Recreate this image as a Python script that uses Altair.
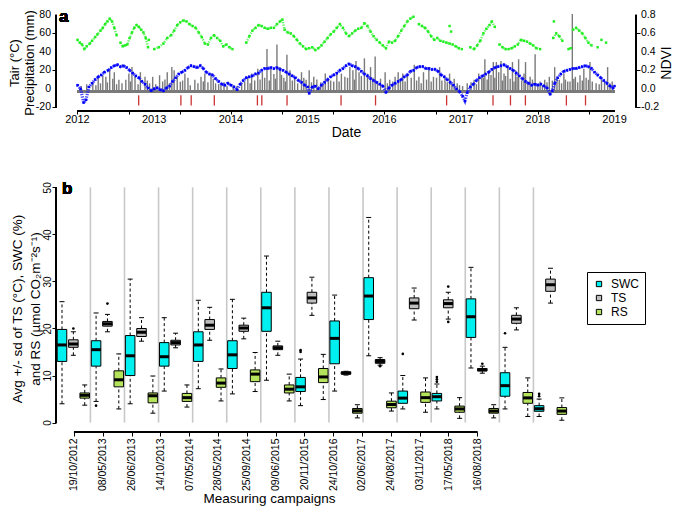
import altair as alt
import pandas as pd

FONT = "Liberation Sans"

# ---------------- Panel a data ----------------
# Air temperature (°C) (decimal year, value)
tair = [
    (2012.00, 4), (2012.04, 0), (2012.08, -15), (2012.11, -12), (2012.15, 2), (2012.19, 6),
    (2012.23, 10), (2012.27, 13), (2012.31, 15), (2012.35, 18), (2012.40, 20), (2012.44, 23),
    (2012.48, 25), (2012.52, 26), (2012.56, 24), (2012.60, 25), (2012.64, 23), (2012.68, 20),
    (2012.72, 17), (2012.76, 14), (2012.80, 12), (2012.84, 8), (2012.88, 5), (2012.92, 1),
    (2012.96, -2), (2013.00, 0), (2013.04, 1), (2013.08, -1), (2013.12, -2), (2013.16, 1),
    (2013.20, 3), (2013.24, 8), (2013.28, 12), (2013.32, 16), (2013.36, 18), (2013.40, 20),
    (2013.44, 23), (2013.48, 25), (2013.52, 24), (2013.56, 23), (2013.60, 25), (2013.64, 22),
    (2013.68, 18), (2013.72, 16), (2013.76, 15), (2013.80, 11), (2013.84, 8), (2013.88, 5),
    (2013.92, 4), (2013.96, 6), (2014.00, 4), (2014.04, 2), (2014.08, -1), (2014.12, 5),
    (2014.16, 9), (2014.20, 12), (2014.24, 13), (2014.28, 14), (2014.32, 16), (2014.36, 17),
    (2014.40, 20), (2014.44, 22), (2014.48, 22), (2014.52, 23), (2014.56, 22), (2014.60, 23),
    (2014.64, 21), (2014.68, 20), (2014.72, 18), (2014.76, 16), (2014.80, 14), (2014.84, 12),
    (2014.88, 9), (2014.92, 7), (2014.96, 4), (2015.00, 2), (2015.02, -5), (2015.06, 2),
    (2015.10, 3), (2015.14, 0), (2015.18, 4), (2015.22, 7), (2015.26, 10), (2015.30, 13),
    (2015.34, 15), (2015.38, 17), (2015.42, 20), (2015.46, 22), (2015.50, 25), (2015.54, 27),
    (2015.58, 25), (2015.62, 24), (2015.66, 22), (2015.70, 19), (2015.74, 16), (2015.78, 14),
    (2015.82, 11), (2015.86, 9), (2015.90, 7), (2015.94, 5), (2015.98, 3), (2016.02, -4),
    (2016.06, 1), (2016.10, 4), (2016.14, 6), (2016.18, 8), (2016.22, 10), (2016.26, 13),
    (2016.30, 15), (2016.34, 19), (2016.38, 20), (2016.42, 23), (2016.46, 24), (2016.50, 24),
    (2016.54, 22), (2016.58, 22), (2016.62, 21), (2016.66, 21), (2016.70, 19), (2016.74, 15),
    (2016.78, 13), (2016.82, 10), (2016.86, 7), (2016.90, 4), (2016.94, 0), (2016.98, -3),
    (2017.02, -8), (2017.05, -13), (2017.08, -4), (2017.12, 2), (2017.16, 5), (2017.20, 9),
    (2017.24, 12), (2017.28, 14), (2017.32, 16), (2017.36, 18), (2017.40, 21), (2017.44, 23),
    (2017.48, 24), (2017.52, 25), (2017.56, 26), (2017.60, 24), (2017.64, 22), (2017.68, 20),
    (2017.72, 17), (2017.76, 14), (2017.80, 11), (2017.84, 8), (2017.88, 6), (2017.92, 4),
    (2017.96, 5), (2018.00, 4), (2018.04, 5), (2018.08, 3), (2018.12, 1), (2018.16, -6),
    (2018.19, -2), (2018.22, 6), (2018.26, 12), (2018.30, 16), (2018.34, 19), (2018.38, 20),
    (2018.42, 21), (2018.46, 22), (2018.50, 22), (2018.54, 23), (2018.58, 24), (2018.62, 25),
    (2018.66, 24), (2018.70, 22), (2018.74, 18), (2018.78, 15), (2018.82, 12), (2018.86, 9),
    (2018.90, 6), (2018.94, 3), (2018.98, 1), (2019.00, 3),
]

# NDVI (decimal year, value, segment id for gaps)
ndvi = [
    (2012.00, 0.53, 1), (2012.03, 0.50, 1), (2012.06, 0.48, 1), (2012.09, 0.43, 1), (2012.12, 0.46, 1),
    (2012.16, 0.49, 1), (2012.19, 0.52, 1), (2012.23, 0.56, 1), (2012.26, 0.59, 1), (2012.30, 0.63, 1),
    (2012.33, 0.66, 1), (2012.36, 0.70, 1), (2012.39, 0.73, 1), (2012.42, 0.76, 1), (2012.45, 0.73, 1),
    (2012.48, 0.66, 1), (2012.51, 0.58, 1),
    (2012.56, 0.50, 2), (2012.59, 0.46, 2), (2012.62, 0.47, 2), (2012.65, 0.48, 2), (2012.68, 0.55, 2),
    (2012.71, 0.61, 2), (2012.74, 0.66, 2), (2012.77, 0.69, 2), (2012.80, 0.67, 2), (2012.83, 0.64, 2),
    (2012.86, 0.61, 2), (2012.89, 0.55, 2), (2012.92, 0.45, 2),
    (2013.00, 0.43, 3), (2013.06, 0.45, 3), (2013.12, 0.49, 3), (2013.17, 0.55, 3), (2013.22, 0.58, 3),
    (2013.26, 0.63, 3), (2013.30, 0.69, 3), (2013.34, 0.72, 3), (2013.38, 0.74, 3), (2013.42, 0.73, 3),
    (2013.46, 0.70, 3), (2013.50, 0.68, 3), (2013.54, 0.66, 3), (2013.58, 0.61, 3), (2013.62, 0.56, 3),
    (2013.66, 0.49, 3), (2013.70, 0.48, 3), (2013.74, 0.55, 3), (2013.78, 0.58, 3), (2013.82, 0.55, 3),
    (2013.86, 0.52, 3), (2013.90, 0.46, 3), (2013.94, 0.48, 3), (2013.98, 0.45, 3), (2014.02, 0.43, 3),
    (2014.20, 0.50, 4), (2014.24, 0.57, 4), (2014.28, 0.63, 4), (2014.32, 0.66, 4), (2014.36, 0.69, 4),
    (2014.40, 0.68, 4), (2014.44, 0.66, 4), (2014.48, 0.65, 4), (2014.52, 0.66, 4), (2014.56, 0.66, 4),
    (2014.60, 0.70, 4), (2014.64, 0.73, 4), (2014.67, 0.75, 4), (2014.70, 0.64, 4), (2014.74, 0.61, 4),
    (2014.78, 0.60, 4), (2014.82, 0.57, 4), (2014.86, 0.53, 4), (2014.90, 0.49, 4), (2014.94, 0.46, 4),
    (2014.98, 0.43, 4), (2015.02, 0.44, 4), (2015.06, 0.45, 4), (2015.10, 0.42, 4), (2015.14, 0.44, 4),
    (2015.18, 0.47, 4), (2015.22, 0.51, 4), (2015.26, 0.55, 4), (2015.30, 0.59, 4), (2015.34, 0.62, 4),
    (2015.38, 0.66, 4), (2015.42, 0.70, 4), (2015.46, 0.66, 4), (2015.50, 0.60, 4), (2015.54, 0.57, 4),
    (2015.58, 0.60, 4), (2015.62, 0.63, 4), (2015.66, 0.65, 4), (2015.70, 0.66, 4), (2015.74, 0.71, 4),
    (2015.78, 0.68, 4), (2015.82, 0.62, 4), (2015.86, 0.57, 4), (2015.90, 0.53, 4), (2015.94, 0.50, 4),
    (2015.98, 0.47, 4), (2016.02, 0.44, 4), (2016.06, 0.51, 4), (2016.10, 0.50, 4), (2016.14, 0.52, 4),
    (2016.18, 0.57, 4), (2016.22, 0.63, 4), (2016.26, 0.68, 4), (2016.30, 0.73, 4), (2016.34, 0.76, 4),
    (2016.38, 0.78, 4),
    (2016.45, 0.70, 5), (2016.49, 0.68, 5), (2016.53, 0.66, 5), (2016.57, 0.62, 5), (2016.61, 0.57, 5),
    (2016.65, 0.53, 5), (2016.69, 0.55, 5), (2016.73, 0.52, 5), (2016.77, 0.51, 5), (2016.81, 0.50, 5),
    (2016.85, 0.49, 5), (2016.89, 0.48, 5), (2016.93, 0.46, 5), (2016.97, 0.44, 5), (2017.01, 0.43, 5),
    (2017.12, 0.45, 6), (2017.17, 0.43, 6), (2017.21, 0.47, 6), (2017.25, 0.52, 6), (2017.29, 0.60, 6),
    (2017.33, 0.65, 6), (2017.37, 0.69, 6), (2017.40, 0.73, 6), (2017.44, 0.67, 6),
    (2017.50, 0.48, 7), (2017.54, 0.45, 7), (2017.58, 0.43, 7), (2017.62, 0.43, 7), (2017.66, 0.44, 7),
    (2017.70, 0.46, 7), (2017.74, 0.48, 7), (2017.78, 0.53, 7), (2017.82, 0.52, 7), (2017.86, 0.51, 7),
    (2017.90, 0.49, 7), (2017.94, 0.47, 7), (2017.98, 0.44, 7), (2018.03, 0.43, 7),
    (2018.20, 0.55, 8), (2018.24, 0.60, 8), (2018.28, 0.57, 8), (2018.32, 0.52, 8),
    (2018.40, 0.43, 9), (2018.43, 0.44, 9),
    (2018.46, 0.64, 10), (2018.50, 0.66, 10), (2018.54, 0.63, 10), (2018.58, 0.60, 10), (2018.62, 0.55, 10),
    (2018.66, 0.50, 10), (2018.70, 0.47, 10),
    (2012.93, 0.53, 11), (2016.85, 0.68, 12), (2016.87, 0.62, 13), (2018.21, 0.73, 14),
    (2018.78, 0.45, 15), (2018.83, 0.53, 16), (2018.89, 0.50, 17),
]

# Precipitation (mm) for rainy days (decimal year, mm)
precip = [
    (2012.05, 3), (2012.12, 5), (2012.20, 8), (2012.24, 4), (2012.27, 12), (2012.30, 6), (2012.33, 14.7),
    (2012.37, 13), (2012.39, 7), (2012.42, 21.8), (2012.46, 11), (2012.48, 18), (2012.51, 5), (2012.54, 9.8),
    (2012.58, 6), (2012.63, 9.8), (2012.67, 16.5), (2012.69, 8), (2012.71, 23.5), (2012.75, 13), (2012.79, 5),
    (2012.82, 18), (2012.88, 13), (2012.91, 9), (2012.94, 6), (2012.98, 13),
    (2013.02, 5), (2013.07, 14.7), (2013.11, 8), (2013.14, 10), (2013.17, 18), (2013.20, 6), (2013.23, 23.5),
    (2013.26, 20), (2013.30, 13), (2013.34, 7.7), (2013.37, 9), (2013.40, 16.5), (2013.44, 12), (2013.47, 4),
    (2013.53, 9.8), (2013.57, 6), (2013.61, 13), (2013.64, 8), (2013.66, 16.5), (2013.70, 7), (2013.74, 16.5),
    (2013.77, 11), (2013.80, 6), (2013.84, 5), (2013.87, 4), (2013.91, 7), (2013.95, 3),
    (2014.03, 4), (2014.08, 3), (2014.14, 6), (2014.18, 8), (2014.22, 13), (2014.25, 6), (2014.27, 16.5),
    (2014.31, 9), (2014.35, 21.8), (2014.38, 10), (2014.41, 18), (2014.44, 12), (2014.47, 43), (2014.50, 9),
    (2014.52, 21.8), (2014.56, 16), (2014.58, 11), (2014.60, 48), (2014.64, 23.5), (2014.66, 15), (2014.69, 12),
    (2014.71, 8), (2014.73, 37), (2014.77, 20), (2014.80, 9), (2014.83, 13), (2014.87, 6), (2014.92, 18),
    (2014.95, 12), (2014.98, 9.8),
    (2015.02, 20), (2015.05, 7), (2015.08, 13), (2015.12, 10), (2015.17, 7), (2015.20, 5), (2015.23, 16.5),
    (2015.27, 11), (2015.30, 9), (2015.34, 8), (2015.38, 18), (2015.41, 8), (2015.44, 16.5), (2015.485, 13),
    (2015.52, 12), (2015.55, 23.5), (2015.59, 20), (2015.61, 10), (2015.63, 30), (2015.67, 18), (2015.70, 14),
    (2015.74, 33), (2015.78, 16.5), (2015.82, 23.5), (2015.85, 12), (2015.88, 35), (2015.91, 8), (2015.95, 11),
    (2016.01, 18), (2016.04, 6), (2016.07, 9.8), (2016.11, 8), (2016.14, 13), (2016.18, 18), (2016.21, 10),
    (2016.24, 16.5), (2016.27, 8), (2016.30, 14), (2016.35, 12), (2016.39, 26), (2016.42, 9), (2016.45, 13),
    (2016.48, 6), (2016.51, 18), (2016.55, 10), (2016.58, 23.5), (2016.61, 8), (2016.64, 13), (2016.68, 12),
    (2016.72, 23.5), (2016.75, 9), (2016.79, 13), (2016.82, 7), (2016.85, 16.5), (2016.88, 5), (2016.91, 11),
    (2016.95, 6), (2016.98, 4),
    (2017.02, 3), (2017.08, 6), (2017.13, 7), (2017.17, 9.8), (2017.20, 5), (2017.23, 16.5), (2017.27, 13),
    (2017.29, 12), (2017.31, 32), (2017.34, 10), (2017.36, 20), (2017.39, 15), (2017.42, 29), (2017.44, 12),
    (2017.46, 29), (2017.49, 18), (2017.52, 30), (2017.54, 9), (2017.56, 16.5), (2017.58, 14), (2017.61, 25),
    (2017.64, 11), (2017.67, 29), (2017.69, 8), (2017.71, 20), (2017.73, 13), (2017.75, 32), (2017.79, 9),
    (2017.82, 16.5), (2017.84, 29), (2017.87, 7), (2017.90, 13), (2017.93, 10), (2017.965, 37.5),
    (2018.00, 5), (2018.03, 8), (2018.06, 4), (2018.09, 9.8), (2018.12, 7), (2018.15, 13), (2018.19, 9),
    (2018.22, 23.5), (2018.25, 12), (2018.28, 9.8), (2018.31, 6), (2018.34, 16.5), (2018.36, 10), (2018.39, 8),
    (2018.42, 8), (2018.45, 81), (2018.47, 11), (2018.49, 13), (2018.52, 7), (2018.55, 14.7), (2018.58, 9),
    (2018.60, 21.8), (2018.63, 12), (2018.66, 9.8), (2018.68, 29), (2018.71, 8), (2018.76, 6), (2018.80, 5),
    (2018.83, 9.8), (2018.87, 9), (2018.91, 23.5), (2018.94, 6), (2018.97, 8),
]

# Axis tick labels for panel a
left_ticks = [-20, 0, 20, 40, 60, 80]
right_ticks = [-0.2, 0.0, 0.2, 0.4, 0.6, 0.8]
year_ticks = [2012, 2013, 2014, 2015, 2016, 2017, 2018, 2019]

# Measuring campaigns
campaigns = ["19/10/2012", "08/05/2013", "26/06/2013", "14/10/2013", "07/05/2014",
             "28/05/2014", "25/09/2014", "09/06/2015", "20/11/2015", "24/10/2016",
             "02/06/2017", "24/08/2017", "03/11/2017", "17/05/2018", "16/08/2018"]

# ---------------- Panel b data ----------------
variables = ["SWC", "TS", "RS"]
# per box: q1, median, q3, lower whisker, upper whisker (campaign by campaign: SWC, TS, RS)
box_q1 = [13, 16, 5.2, 12, 20.5, 7.6, 10, 18.3, 4.2, 12, 16.5, 4.5, 13, 19.8, 7.5,
          11.5, 19.4, 8.7, 19.4, 15.5, 6.3, 6.6, 25.4, 8.5, 12.5, 10.3, 2.0, 21.9, 12.6, 3.15,
          4.1, 24.2, 4.3, 4.6, 24.4, 2.2, 18.1, 11.0, 2.0, 5.6, 21.1, 4.1, 2.4, 27.9, 1.75]
box_med = [16.5, 16.7, 5.8, 15.5, 21, 9.1, 14.2, 19.2, 5.7, 14, 17, 5.3, 16.5, 20.7, 8.4,
           14.4, 20.1, 10.3, 24.4, 15.9, 7.1, 7.6, 26.5, 9.7, 17.9, 10.5, 2.5, 26.9, 13.0, 3.85,
           5.2, 25.4, 5.3, 5.5, 25.3, 2.9, 22.5, 11.2, 2.45, 7.85, 22, 5.25, 2.95, 29.3, 2.45]
box_q3 = [19.8, 17.6, 6.3, 17.4, 21.5, 11, 18.5, 20, 6.3, 17, 17.5, 6.2, 19.3, 21.9, 9.5,
          17.4, 20.7, 11.2, 27.7, 16.3, 8, 9.6, 27.7, 11.5, 21.6, 10.8, 3.0, 30.8, 13.4, 4.55,
          6.7, 26.5, 6.5, 6.2, 26.1, 3.5, 26.3, 11.5, 3.0, 10.6, 22.8, 6.4, 3.6, 30.5, 3.2]
box_lo = [4, 14.3, 3.7, 4.5, 19.3, 2.9, 4, 17.3, 2, 6.7, 15.9, 3.3, 7.2, 17.5, 4.6,
          6.1, 17.8, 6.6, 9, 14.3, 4.6, 3.6, 22.8, 4.9, 6.7, 10.1, 1.0, 14.2, 12.2, 2.45,
          2.9, 21.8, 2.2, 2.9, 22, 0.9, 11.6, 10.5, 1.0, 2.9, 19.7, 1.3, 1.3, 25.4, 0.5]
box_hi = [25.7, 19.3, 8, 23.3, 23, 14.6, 30.5, 22.3, 9.9, 22.3, 19, 8, 26, 24.5, 11.4,
          26.2, 22.2, 14.9, 35.4, 17.3, 10.3, 13.5, 30.9, 14.5, 27.1, 10.9, 3.8, 43.6, 13.8, 6.3,
          10, 28.6, 9.5, 8.2, 27.7, 5.3, 33, 12, 3.8, 16, 24.4, 9.5, 5.0, 32.8, 5.25]
# outliers: (box number 1..45, value)
outliers = [(2, 20.0), (4, 3.6), (5, 25.3), (22, 15.0), (22, 15.4), (29, 12.0), (31, 14.6),
            (34, 8.7), (34, 9.2), (34, 9.7), (35, 28.9), (35, 21.4), (38, 12.5), (40, 19.0),
            (43, 5.6), (43, 6.1)]
box_colors = ["#00f0f0", "#bebebe", "#b5e35b"]

# ---------------- Build data frames ----------------
tair_df = pd.DataFrame(tair, columns=["t", "v"])
ndvi_df = pd.DataFrame(ndvi, columns=["t", "n", "seg"])
prec_df = pd.DataFrame(precip, columns=["t", "mm"])
lt_df = pd.DataFrame({"lv": left_ticks, "lab": [str(v) for v in left_ticks]})
rt_df = pd.DataFrame({"rv": right_ticks, "lab": [f"{v:.1f}" for v in right_ticks]})
yr_df = pd.DataFrame({"t": year_ticks, "lab": [str(y) for y in year_ticks]})


def dec_year(s):
    d = pd.Timestamp(pd.to_datetime(s, format="%d/%m/%Y"))
    start = pd.Timestamp(year=d.year, month=1, day=1)
    ndays = 366 if d.is_leap_year else 365
    return d.year + (d - start).days / ndays


camp_df = pd.DataFrame({"t": [dec_year(s) for s in campaigns]})

n_box = len(box_q1)
box_df = pd.DataFrame({
    "pos": list(range(1, n_box + 1)),
    "var": [variables[i % 3] for i in range(n_box)],
    "q1": box_q1, "med": box_med, "q3": box_q3, "lo": box_lo, "hi": box_hi,
})
HALF = 0.42
CAP = 0.22
box_df["xl"] = box_df["pos"] - HALF
box_df["xr"] = box_df["pos"] + HALF
box_df["cl"] = box_df["pos"] - CAP
box_df["cr"] = box_df["pos"] + CAP
out_df = pd.DataFrame(outliers, columns=["pos", "val"])
sep_df = pd.DataFrame({"sep": [3 * k + 3.5 for k in range(len(campaigns) - 1)]})

# ---------------- Panel a ----------------
W = 580
HA = 97
HB = 247
PLOT_LEFT = 57  # expected absolute x of the plot areas

month_ticks = [2012 + k / 12 for k in range(0, 7 * 12 + 1)]
xa_scale = alt.Scale(domain=[2011.72, 2019.28], nice=False, zero=False)
xa_axis = alt.Axis(values=month_ticks, labels=False, title="Date", grid=False, domain=False,
                   tickSize=3, titleFontSize=14, titlePadding=11)
xa = alt.X("t:Q", scale=xa_scale, axis=xa_axis)
ya_scale = alt.Scale(domain=[-24, 81], nice=False, zero=False)
ya_axis = alt.Axis(values=left_ticks, labels=False, title=["Tair (°C)", "Precipitation (mm)"],
                   grid=False, domain=False, tickSize=4, titleFontSize=13,
                   titleLineHeight=15.5, titlePadding=15)

bars = alt.Chart(prec_df).mark_rule(color="#7a7a7a", strokeWidth=1.4).encode(
    x=xa, y=alt.Y("mm:Q", scale=ya_scale, axis=ya_axis), y2=alt.datum(-2.5))
base_band = alt.Chart(prec_df).mark_rule(color="#7a7a7a", strokeWidth=2.5).encode(
    x=alt.datum(2012.0), x2=alt.datum(2019.0), y=alt.datum(-2.5))
red_ticks = alt.Chart(camp_df).mark_rule(color="#cc3333", strokeWidth=1.3).encode(
    x=xa, y=alt.datum(-7), y2=alt.datum(-18))
tair_line = alt.Chart(tair_df).mark_line(color="#1a1aff", strokeWidth=3.2, opacity=0.8,
                                         strokeDash=[1.3, 1.2]).encode(
    x=xa, y=alt.Y("v:Q", scale=ya_scale, axis=ya_axis))
tair_pts = alt.Chart(tair_df).mark_square(color="#0000ff", size=6, opacity=1).encode(
    x=xa, y=alt.Y("v:Q", scale=ya_scale, axis=ya_axis))
left_axis_line = alt.Chart(camp_df).mark_rule(color="black", strokeWidth=1).encode(
    x=alt.value(0), y=alt.datum(-20), y2=alt.datum(80))
bottom_axis_line = alt.Chart(camp_df).mark_rule(color="black", strokeWidth=1).encode(
    x=alt.datum(2012.0), x2=alt.datum(2019.0), y=alt.value(HA))
left_labels = alt.Chart(lt_df).mark_text(align="right", baseline="middle", fontSize=10.5,
                                         font=FONT, color="black").encode(
    x=alt.value(-5), y=alt.Y("lv:Q", scale=ya_scale, axis=ya_axis), text="lab:N")
year_labels = alt.Chart(yr_df).mark_text(align="center", baseline="middle", fontSize=11,
                                         font=FONT, color="black").encode(
    x=xa, y=alt.value(HA + 9), text="lab:N")
label_a = alt.Chart(camp_df).mark_text(text="a", fontWeight="bold", fontSize=17, align="left",
                                       baseline="middle", font=FONT).encode(
    x=alt.value(3), y=alt.value(3))

left_layers = alt.layer(bars, base_band, red_ticks, tair_line, tair_pts, left_axis_line,
                        bottom_axis_line, left_labels, year_labels, label_a)

yn_scale = alt.Scale(domain=[-0.24, 0.81], nice=False, zero=False)
yn_axis = alt.Axis(orient="right", values=right_ticks, labels=False, title="NDVI",
                   titleAngle=270, titleBaseline="top", grid=False, domain=False, tickSize=4,
                   titleFontSize=14, titlePadding=19)
ndvi_line = alt.Chart(ndvi_df).mark_line(color="#33ee33", strokeWidth=2.4, opacity=0.75,
                                         strokeDash=[1.3, 1.2]).encode(
    x=xa, y=alt.Y("n:Q", scale=yn_scale, axis=yn_axis), detail="seg:N")
ndvi_pts = alt.Chart(ndvi_df).mark_square(color="#22ee22", size=6, opacity=1).encode(
    x=xa, y=alt.Y("n:Q", scale=yn_scale, axis=yn_axis))
right_axis_line = alt.Chart(camp_df).mark_rule(color="black", strokeWidth=1).encode(
    x=alt.value(W), y=alt.datum(-0.2), y2=alt.datum(0.8))
right_labels = alt.Chart(rt_df).mark_text(align="left", baseline="middle", fontSize=10.5,
                                          font=FONT, color="black").encode(
    x=alt.value(W + 5), y=alt.Y("rv:Q", scale=yn_scale, axis=yn_axis), text="lab:N")
right_layers = alt.layer(ndvi_line, ndvi_pts, right_axis_line, right_labels)

panel_a = alt.layer(left_layers, right_layers).resolve_scale(y="independent").properties(
    width=W, height=HA)

# ---------------- Panel b ----------------
PX = 11.36  # pixels per box slot
x0 = 1 - (63 - PLOT_LEFT) / PX
xb_scale = alt.Scale(domain=[x0, x0 + W / PX], nice=False, zero=False)
tick0 = 2.056
tstep = 2.535
camp_ticks = [tick0 + tstep * j for j in range(len(campaigns))]
label_arr = "[" + ",".join("'" + c + "'" for c in campaigns) + "]"
xb_axis = alt.Axis(values=camp_ticks,
                   labelExpr=label_arr + f"[round((datum.value - {tick0}) / {tstep})]",
                   labelAngle=270, title="Measuring campaigns", titleX=270 - PLOT_LEFT,
                   grid=False, domain=False, tickSize=4, labelFontSize=10.5, titleFontSize=13.5,
                   labelPadding=2, titlePadding=1, labelOverlap=False)
yb_scale = alt.Scale(domain=[-2, 50.5], nice=False, zero=False)
yb_axis = alt.Axis(values=[0, 10, 20, 30, 40, 50], labelAngle=270, grid=False, domain=False,
                   tickSize=4, labelFontSize=10, labelPadding=0, labelOverlap=False,
                   title=["Avg +/- sd of TS (°C), SWC (%)", "and RS (µmol CO₂m⁻²s⁻¹)"],
                   titleFontSize=13.5, titleLineHeight=17.5, titlePadding=0)

seps = alt.Chart(sep_df).mark_rule(color="#c8c8c8", strokeWidth=1.6).encode(
    x=alt.X("sep:Q", scale=xb_scale, axis=xb_axis),
    y=alt.Y(datum=0, scale=yb_scale, axis=yb_axis), y2=alt.datum(50))
whisk_lo = alt.Chart(box_df).mark_rule(color="black", strokeWidth=1, strokeDash=[3, 2.5]).encode(
    x="pos:Q", y="lo:Q", y2="q1:Q")
whisk_hi = alt.Chart(box_df).mark_rule(color="black", strokeWidth=1, strokeDash=[3, 2.5]).encode(
    x="pos:Q", y="q3:Q", y2="hi:Q")
cap_lo = alt.Chart(box_df).mark_rule(color="black", strokeWidth=1).encode(
    x="cl:Q", x2="cr:Q", y="lo:Q")
cap_hi = alt.Chart(box_df).mark_rule(color="black", strokeWidth=1).encode(
    x="cl:Q", x2="cr:Q", y="hi:Q")
boxes = alt.Chart(box_df).mark_rect(stroke="black", strokeWidth=1).encode(
    x="xl:Q", x2="xr:Q", y="q1:Q", y2="q3:Q",
    fill=alt.Fill("var:N", scale=alt.Scale(domain=variables, range=box_colors),
                  legend=alt.Legend(title=None, orient="none", legendX=531,
                                    legendY=258, strokeColor="black", fillColor="white",
                                    padding=6, symbolType="square", symbolSize=28,
                                    symbolStrokeColor="black", symbolStrokeWidth=1,
                                    labelFontSize=12, labelFont=FONT, rowPadding=2,
                                    labelOffset=6)))
medians = alt.Chart(box_df).mark_rule(color="black", strokeWidth=3).encode(
    x="xl:Q", x2="xr:Q", y="med:Q")
outs = alt.Chart(out_df).mark_circle(color="black", size=7, opacity=1).encode(
    x="pos:Q", y="val:Q")
b_yline = alt.Chart(sep_df).mark_rule(color="black", strokeWidth=1).encode(
    x=alt.value(0), y=alt.datum(0), y2=alt.datum(50))
b_xline = alt.Chart(sep_df).mark_rule(color="black", strokeWidth=1).encode(
    x=alt.datum(camp_ticks[0]), x2=alt.datum(camp_ticks[-1]), y=alt.value(HB))
label_b = alt.Chart(sep_df).mark_text(text="b", fontWeight="bold", fontSize=17, align="left",
                                      baseline="middle", font=FONT).encode(
    x=alt.value(63 - PLOT_LEFT), y=alt.value(4))

panel_b = alt.layer(seps, whisk_lo, whisk_hi, cap_lo, cap_hi, boxes, medians, outs,
                    b_yline, b_xline, label_b).properties(width=W, height=HB)

chart = alt.vconcat(panel_a, panel_b, spacing=40).properties(
    padding={"left": 0, "top": 0, "right": 0, "bottom": 0}
).configure(font=FONT).configure_view(stroke=None).configure_axis(
    labelColor="black", titleColor="black", tickColor="black", titleFontWeight="normal",
    labelFont=FONT, titleFont=FONT)

chart.save("out.html", embed_options={"renderer": "svg", "actions": False})
